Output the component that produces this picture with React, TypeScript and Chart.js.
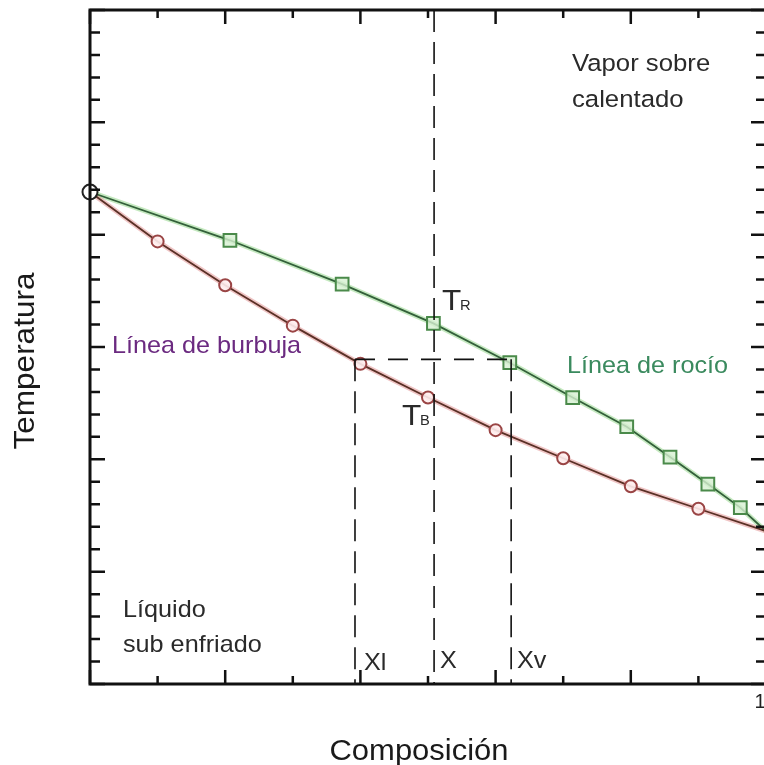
import React, { useEffect, useRef } from "react";
import { Chart, registerables } from "chart.js";

Chart.register(...registerables);

// Composición (fracción) y temperatura (unidades arbitrarias, 0..30)
const bubbleX = [0, 0.1, 0.2, 0.3, 0.4, 0.5, 0.6, 0.7, 0.8, 0.9, 1];
const bubbleT = [21.9, 19.7, 17.75, 15.95, 14.25, 12.75, 11.3, 10.05, 8.8, 7.8, 6.8];
const dewX = [0, 0.207, 0.373, 0.508, 0.621, 0.714, 0.794, 0.858, 0.914, 0.962, 1];
const dewT = [21.9, 19.75, 17.8, 16.05, 14.3, 12.75, 11.45, 10.1, 8.9, 7.85, 6.8];

// Línea de unión (tie line)
const tieT = 14.45;
const xLiquid = 0.392;
const xMix = 0.509;
const xVapor = 0.623;

const xTickValues = [0, 0.1, 0.2, 0.3, 0.4, 0.5, 0.6, 0.7, 0.8, 0.9, 1];
const xMajorTicks = [0, 0.2, 0.4, 0.6, 0.8, 1];
const xTickLabels = [{ value: 1, text: "1" }];
const yMin = 0;
const yMax = 30;
const yMajorEvery = 5;

const FONT = "'Liberation Sans', Arial, sans-serif";

export default function App() {
  const ref = useRef<HTMLCanvasElement | null>(null);

  useEffect(() => {
    const canvas = ref.current;
    if (!canvas) return;
    document.body.style.overflow = "hidden";

    const pts = (xs: number[], ys: number[]) => xs.map((x, i) => ({ x, y: ys[i] }));
    const n = bubbleX.length;

    const overlay = {
      id: "overlay",
      afterDatasetsDraw(chart: any) {
        const ctx: CanvasRenderingContext2D = chart.ctx;
        const xs = chart.scales.x;
        const ys = chart.scales.y;
        const X = (v: number) => xs.getPixelForValue(v);
        const Y = (v: number) => ys.getPixelForValue(v);
        const area = chart.chartArea;
        ctx.save();

        // dashed construction lines
        ctx.strokeStyle = "#111";
        ctx.lineWidth = 1.6;
        ctx.setLineDash([22, 10]);
        ctx.beginPath();
        ctx.moveTo(X(xMix), area.top);
        ctx.lineTo(X(xMix), area.bottom);
        ctx.stroke();
        ctx.beginPath();
        ctx.moveTo(X(xLiquid), Y(tieT));
        ctx.lineTo(X(xLiquid), area.bottom);
        ctx.moveTo(X(xVapor), Y(tieT));
        ctx.lineTo(X(xVapor), area.bottom);
        ctx.stroke();
        ctx.setLineDash([20, 13]);
        ctx.beginPath();
        ctx.moveTo(X(xLiquid), Y(tieT));
        ctx.lineTo(X(xVapor), Y(tieT));
        ctx.stroke();
        ctx.setLineDash([]);

        // start point marker (pure component)
        ctx.beginPath();
        ctx.arc(X(bubbleX[0]), Y(bubbleT[0]), 7.5, 0, Math.PI * 2);
        ctx.fillStyle = "#fff";
        ctx.fill();
        ctx.lineWidth = 2;
        ctx.strokeStyle = "#222";
        ctx.stroke();

        // frame
        ctx.strokeStyle = "#111";
        ctx.lineWidth = 3;
        ctx.strokeRect(area.left, area.top, area.right - area.left, area.bottom - area.top);

        // x ticks (inward, bottom and top)
        ctx.lineWidth = 2.5;
        xTickValues.forEach((v) => {
          const len = xMajorTicks.some((m) => Math.abs(m - v) < 1e-9) ? 14 : 8;
          const px = X(v);
          ctx.beginPath();
          ctx.moveTo(px, area.bottom);
          ctx.lineTo(px, area.bottom - len);
          ctx.moveTo(px, area.top);
          ctx.lineTo(px, area.top + len);
          ctx.stroke();
        });
        // y ticks (inward, left and right)
        for (let v = yMin; v <= yMax; v++) {
          const len = v % yMajorEvery === 0 ? 15 : 10;
          const py = Y(v);
          ctx.beginPath();
          ctx.moveTo(area.left, py);
          ctx.lineTo(area.left + len, py);
          ctx.moveTo(area.right, py);
          ctx.lineTo(area.right - len, py);
          ctx.stroke();
        }

        // tick labels
        ctx.fillStyle = "#222";
        ctx.font = `20px ${FONT}`;
        ctx.textAlign = "center";
        ctx.textBaseline = "top";
        xTickLabels.forEach((t) => ctx.fillText(t.text, X(t.value) - 6, area.bottom + 8));

        // annotations (slightly widened glyphs, as in the original)
        const SX = 1.05;
        const text = (s: string, x: number, y: number, size: number, color: string, dx = 0) => {
          ctx.save();
          ctx.font = `${size}px ${FONT}`;
          ctx.fillStyle = color;
          ctx.textAlign = "left";
          ctx.textBaseline = "alphabetic";
          ctx.translate(X(x) + dx, Y(y));
          ctx.scale(SX, 1);
          ctx.fillText(s, 0, 0);
          ctx.restore();
        };
        const dark = "#2a2a2a";
        text("Vapor sobre", 0.713, 27.28, 24.5, dark);
        text("calentado", 0.713, 25.68, 24.5, dark);
        text("Línea de burbuja", 0.0325, 14.73, 24, "#6b2a80");
        text("Línea de rocío", 0.7056, 13.84, 24, "#3a8a5e");
        text("Líquido", 0.0488, 2.98, 24, dark);
        text("sub enfriado", 0.0488, 1.42, 24, dark);
        // T_R
        text("T", 0.5207, 16.65, 30, dark);
        text("R", 0.5207, 16.65, 14, dark, 18);
        // T_B
        text("T", 0.4615, 11.53, 30, dark);
        text("B", 0.4615, 11.53, 14, dark, 18);
        text("Xl", 0.4053, 0.62, 24, dark);
        text("X", 0.5178, 0.71, 24, dark);
        text("Xv", 0.6317, 0.71, 24, dark);

        // axis titles
        ctx.fillStyle = "#1a1a1a";
        ctx.textAlign = "center";
        ctx.textBaseline = "alphabetic";
        ctx.save();
        ctx.font = `29.5px ${FONT}`;
        ctx.translate((area.left + X(1)) / 2 - 9, 760);
        ctx.scale(SX, 1);
        ctx.fillText("Composición", 0, 0);
        ctx.restore();
        ctx.save();
        ctx.font = `30px ${FONT}`;
        ctx.translate(34, (area.top + area.bottom) / 2 + 14);
        ctx.rotate(-Math.PI / 2);
        ctx.scale(SX, 1);
        ctx.fillText("Temperatura", 0, 0);
        ctx.restore();

        ctx.restore();
      },
    };

    const bubbleRadius = bubbleX.map((_, i) => (i === 0 || i === n - 1 ? 0 : 6));
    const dewRadius = dewX.map((_, i) => (i === 0 || i === dewX.length - 1 ? 0 : 9));

    const chart = new Chart(canvas, {
      type: "line",
      data: {
        datasets: [
          {
            label: "Línea de burbuja",
            data: pts(bubbleX, bubbleT),
            borderColor: "#5a3026",
            borderWidth: 1.8,
            pointRadius: bubbleRadius,
            pointStyle: "circle",
            pointBorderColor: "#9a4545",
            pointBackgroundColor: "rgba(255,238,238,0.9)",
            pointBorderWidth: 2,
            tension: 0,
            clip: false,
            order: 1,
          } as any,
          {
            label: "Línea de rocío",
            data: pts(dewX, dewT),
            borderColor: "#33603a",
            borderWidth: 1.8,
            pointRadius: dewRadius,
            pointStyle: "rect",
            pointBorderColor: "#4a8a4a",
            pointBackgroundColor: "rgba(215,240,210,0.8)",
            pointBorderWidth: 2,
            tension: 0,
            clip: false,
            order: 1,
          } as any,
          {
            label: "halo burbuja",
            data: pts(bubbleX, bubbleT),
            borderColor: "rgba(225,150,150,0.55)",
            borderWidth: 5,
            pointRadius: 0,
            tension: 0,
            clip: false,
            order: 3,
          } as any,
          {
            label: "halo rocío",
            data: pts(dewX, dewT),
            borderColor: "rgba(150,215,140,0.55)",
            borderWidth: 5,
            pointRadius: 0,
            tension: 0,
            clip: false,
            order: 3,
          } as any,
        ],
      },
      options: {
        responsive: false,
        animation: false,
        devicePixelRatio: 1,
        layout: { padding: { left: 90, top: 10, right: 34, bottom: 81 } },
        scales: {
          x: { type: "linear", min: 0, max: 1, display: false },
          y: { type: "linear", min: yMin, max: yMax, display: false },
        },
        plugins: { legend: { display: false }, tooltip: { enabled: false } },
      },
      plugins: [overlay],
    });
    return () => chart.destroy();
  }, []);

  return (
    <div
      style={{
        position: "fixed",
        left: 0,
        top: 0,
        width: 764,
        height: 765,
        overflow: "hidden",
        background: "#fff",
      }}
    >
      <canvas ref={ref} width={800} height={765} style={{ width: 800, height: 765, display: "block" }} />
    </div>
  );
}
